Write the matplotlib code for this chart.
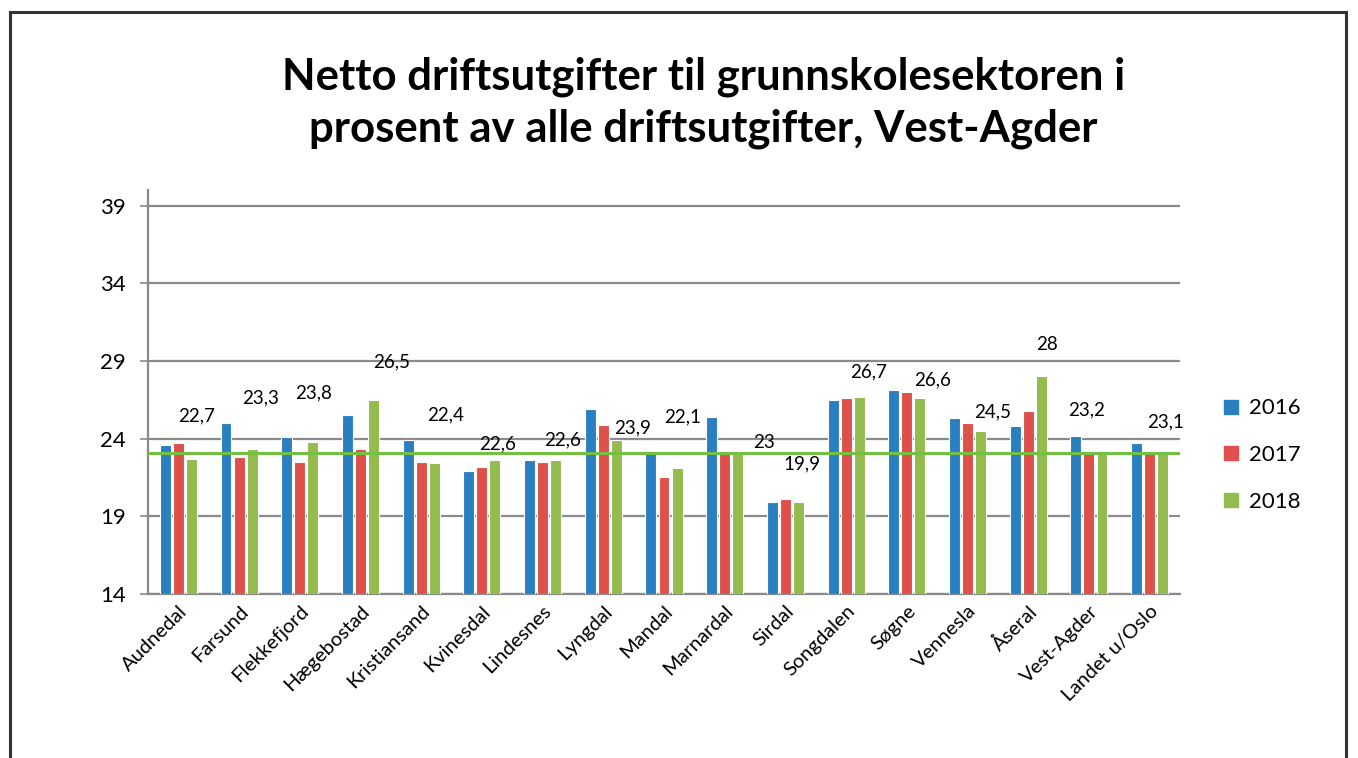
import numpy as np
import matplotlib
matplotlib.use('Agg')
import matplotlib.pyplot as plt
from matplotlib.patches import Rectangle
from matplotlib.lines import Line2D

plt.rcParams['font.family'] = ['Lato', 'DejaVu Sans']

# Data
kommuner = ['Audnedal', 'Farsund', 'Flekkefjord', 'Hægebostad', 'Kristiansand',
            'Kvinesdal', 'Lindesnes', 'Lyngdal', 'Mandal', 'Marnardal', 'Sirdal',
            'Songdalen', 'Søgne', 'Vennesla', 'Åseral', 'Vest-Agder', 'Landet u/Oslo']
years = ['2016', '2017', '2018']
v2016 = [23.6, 25.0, 24.1, 25.5, 23.9, 21.9, 22.6, 25.9, 23.1, 25.4, 19.9,
         26.5, 27.1, 25.3, 24.8, 24.2, 23.7]
v2017 = [23.7, 22.8, 22.5, 23.3, 22.5, 22.2, 22.5, 24.9, 21.5, 23.1, 20.1,
         26.6, 27.0, 25.0, 25.8, 23.1, 23.1]
v2018 = [22.7, 23.3, 23.8, 26.5, 22.4, 22.6, 22.6, 23.9, 22.1, 23.0, 19.9,
         26.7, 26.6, 24.5, 28.0, 23.2, 23.1]
landet_nivaa = 23.1
yticks = [14, 19, 24, 29, 34, 39]

# Styling
colors = ['#2a7fc0', '#e0504a', '#93bb4e']
line_color = '#74c043'
grid_color = '#8a8a8a'

# Label offsets (pixels) for the 2018 data labels, as placed in the original
label_dx = [18, 21, 14, 31, 24, 16, 20, 29, 19, 39, 17, 22, 26, 25, 19, -2, 16]
label_dy = [43, 52, 49, 38, 49, 16, 20, 12, 51, 12, 38, 25, 18, 19, 32, 41, 31]

fig = plt.figure(figsize=(13.58, 7.58), dpi=100)
ax = fig.add_axes([148 / 1358, 1 - 594 / 758, (1180 - 148) / 1358, (594 - 190) / 758])

# Outer frame
fig.patches.append(Rectangle((10 / 1358, -0.05), 1336 / 1358, 1.05 - 12 / 758,
                             transform=fig.transFigure, fill=False,
                             edgecolor='#333333', linewidth=2.2))

x = np.arange(len(kommuner))
width = 0.18
step = 0.215
for k, vals in enumerate([v2016, v2017, v2018]):
    ax.bar(x + (k - 1) * step, np.array(vals) - yticks[0], width, bottom=yticks[0],
           color=colors[k], edgecolor='white', linewidth=0.8, zorder=3)

# Reference line at national level
ax.axhline(landet_nivaa, color=line_color, linewidth=2.2, zorder=4)

# Data labels for 2018
for i, v in enumerate(v2018):
    txt = f'{v:g}'.replace('.', ',')
    ax.annotate(txt, (x[i], v), xytext=(label_dx[i] * 0.72, label_dy[i] * 0.72),
                textcoords='offset points', ha='center', va='center',
                fontsize=13.5, color='black', zorder=5)

ax.set_ylim(14, 40)
ax.set_xlim(-0.5, len(kommuner) - 0.5)
ax.set_yticks(yticks)
ax.set_yticklabels([str(t) for t in yticks], fontsize=16)
ax.yaxis.grid(True, color=grid_color, linewidth=1.6, zorder=0)
ax.set_axisbelow(True)
ax.tick_params(axis='y', length=6, width=1.2, color=grid_color, pad=10)
ax.tick_params(axis='x', length=0, pad=6)
ax.set_xticks(x)
ax.set_xticklabels(kommuner, rotation=45, ha='right', rotation_mode='anchor',
                   fontsize=14.5)
for s in ['top', 'right']:
    ax.spines[s].set_visible(False)
ax.spines['left'].set_color(grid_color)
ax.spines['left'].set_linewidth(1.6)
ax.spines['bottom'].set_color(grid_color)
ax.spines['bottom'].set_linewidth(1.6)

# Title
fig.text(0.518, 1 - 103 / 758,
         'Netto driftsutgifter til grunnskolesektoren i\nprosent av alle driftsutgifter, Vest-Agder',
         ha='center', va='center', fontsize=31.5, fontweight='bold', linespacing=1.35)

# Legend
handles = [Line2D([], [], marker='s', linestyle='', markersize=10, color=c) for c in colors]
fig.legend(handles, years, loc='center left', bbox_to_anchor=(1200 / 1358, 1 - 455 / 758),
           frameon=False, fontsize=16, handletextpad=0.3, labelspacing=1.2,
           handlelength=1.0)

fig.savefig('out.png', dpi=100, facecolor='white')
